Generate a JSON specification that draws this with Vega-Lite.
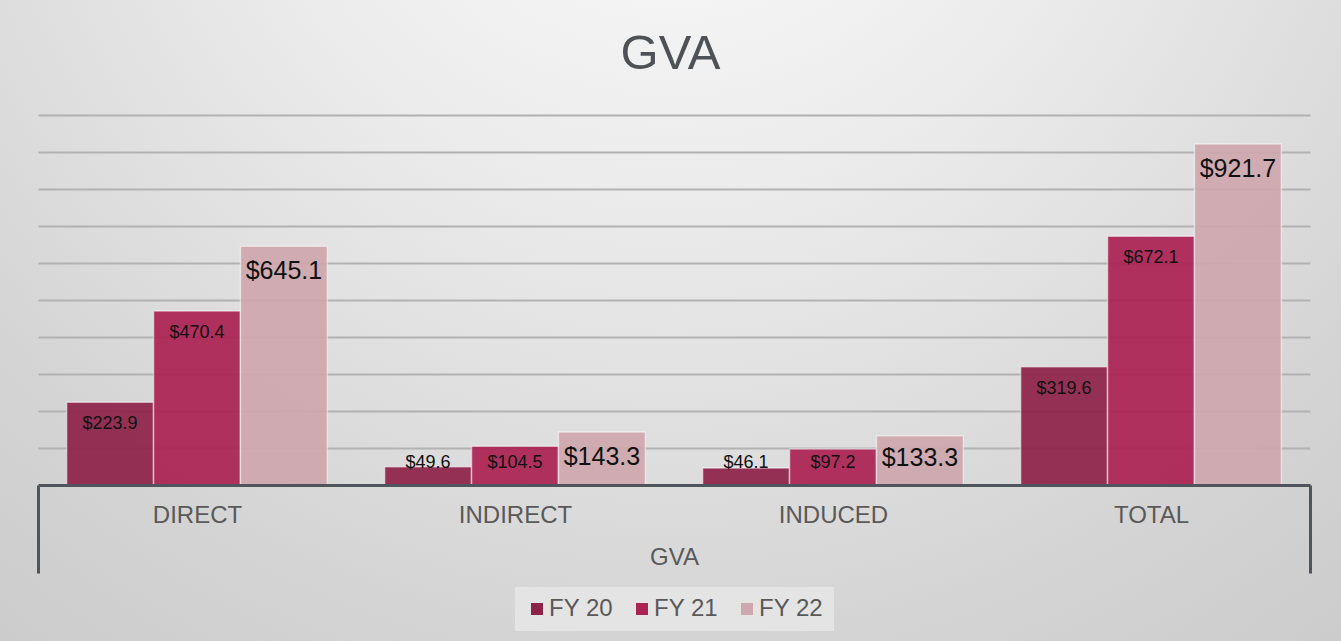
{
  "$schema": "https://vega.github.io/schema/vega-lite/v6.json",
  "width": 1341,
  "height": 641,
  "autosize": {"type": "none"},
  "padding": 0,
  "background": "#d2d2d2",
  "config": {
    "font": "Liberation Sans",
    "view": {
      "stroke": null,
      "fill": {
        "gradient": "radial",
        "x1": 0.5, "y1": 0.08, "r1": 0,
        "x2": 0.5, "y2": 0.08, "r2": 0.95,
        "stops": [
          {"offset": 0, "color": "#fefefe"},
          {"offset": 0.35, "color": "#ebebeb"},
          {"offset": 0.7, "color": "#d4d4d4"},
          {"offset": 1, "color": "#c6c6c6"}
        ]
      }
    }
  },
  "title": {
    "text": "GVA",
    "fontSize": 49,
    "fontWeight": "normal",
    "color": "#4e5257",
    "anchor": "middle",
    "frame": "group",
    "baseline": "middle",
    "offset": -103
  },
  "data": {
    "values": [
      {"category": "DIRECT", "fy": "FY 20", "value": 223.9},
      {"category": "DIRECT", "fy": "FY 21", "value": 470.4},
      {"category": "DIRECT", "fy": "FY 22", "value": 645.1},
      {"category": "INDIRECT", "fy": "FY 20", "value": 49.6},
      {"category": "INDIRECT", "fy": "FY 21", "value": 104.5},
      {"category": "INDIRECT", "fy": "FY 22", "value": 143.3},
      {"category": "INDUCED", "fy": "FY 20", "value": 46.1},
      {"category": "INDUCED", "fy": "FY 21", "value": 97.2},
      {"category": "INDUCED", "fy": "FY 22", "value": 133.3},
      {"category": "TOTAL", "fy": "FY 20", "value": 319.6},
      {"category": "TOTAL", "fy": "FY 21", "value": 672.1},
      {"category": "TOTAL", "fy": "FY 22", "value": 921.7}
    ]
  },
  "encoding": {
    "x": {
      "field": "category",
      "type": "nominal",
      "sort": ["DIRECT", "INDIRECT", "INDUCED", "TOTAL"],
      "scale": {"range": [38, 1310], "paddingInner": 0.18, "paddingOuter": 0.09},
      "axis": {
        "title": "GVA",
        "titleFontSize": 24,
        "titleColor": "#595959",
        "titleFontWeight": "normal",
        "titleY": 72,
        "titleBaseline": "middle",
        "labelFontSize": 24,
        "labelColor": "#595959",
        "labelPadding": -70,
        "labelAngle": 0,
        "labelOffset": {"condition": {"test": "datum.value === 'TOTAL'", "value": -28.62}, "value": 0},
        "bandPosition": 1,
        "tickExtra": true,
        "tickOffset": {"expr": "datum.extra ? -28.62 : (datum.value === 'TOTAL' ? 28.62 : 0)"},
        "tickSize": 88,
        "tickWidth": 3,
        "tickColor": "#50555b",
        "tickOpacity": {"condition": {"test": "datum.extra || datum.value === 'TOTAL'", "value": 1}, "value": 0},
        "domainColor": "#50555b",
        "domainWidth": 3,
        "grid": false,
        "offset": -156,
        "zindex": 1
      }
    },
    "xOffset": {
      "field": "fy",
      "type": "nominal",
      "sort": ["FY 20", "FY 21", "FY 22"],
      "scale": {"paddingInner": 0, "paddingOuter": 0}
    },
    "y": {
      "field": "value",
      "type": "quantitative",
      "scale": {"domain": [0, 1000], "range": [485, 115], "nice": false, "zero": true},
      "axis": {
        "values": [100, 200, 300, 400, 500, 600, 700, 800, 900, 1000],
        "grid": true,
        "gridColor": "#b2b2b2",
        "gridWidth": 2,
        "labels": false,
        "ticks": false,
        "domain": false,
        "title": null
      }
    }
  },
  "layer": [
    {
      "mark": {"type": "bar", "opacity": 0.92, "stroke": "#ffffff", "strokeOpacity": 0.55, "strokeWidth": 1.5},
      "encoding": {
        "color": {
          "field": "fy",
          "type": "nominal",
          "sort": ["FY 20", "FY 21", "FY 22"],
          "scale": {"domain": ["FY 20", "FY 21", "FY 22"], "range": ["#8e2249", "#ac2252", "#cfa7ae"]},
          "legend": {
            "title": null,
            "orient": "none",
            "legendX": 515,
            "legendY": 587,
            "direction": "horizontal",
            "symbolType": "square",
            "symbolSize": 144,
            "symbolStrokeWidth": 0,
            "symbolOpacity": 1,
            "labelFontSize": 24,
            "labelColor": "#595959",
            "labelOffset": 0,
            "columnPadding": 16,
            "padding": 10,
            "fillColor": "#e4e4e4"
          }
        }
      }
    },
    {
      "transform": [{"filter": "datum.fy !== 'FY 22'"}],
      "mark": {
        "type": "text",
        "align": "center",
        "baseline": "middle",
        "color": "#111111",
        "fontSize": 18,
        "dy": {"expr": "min(22, scale('y', 0) - scale('y', datum.value) - 22)"}
      },
      "encoding": {
        "text": {"field": "value", "type": "quantitative", "format": "$.1f"}
      }
    },
    {
      "transform": [{"filter": "datum.fy === 'FY 22'"}],
      "mark": {
        "type": "text",
        "align": "center",
        "baseline": "middle",
        "color": "#111111",
        "fontSize": 25,
        "dy": {"expr": "min(25, scale('y', 0) - scale('y', datum.value) - 27)"}
      },
      "encoding": {
        "text": {"field": "value", "type": "quantitative", "format": "$.1f"}
      }
    }
  ]
}
